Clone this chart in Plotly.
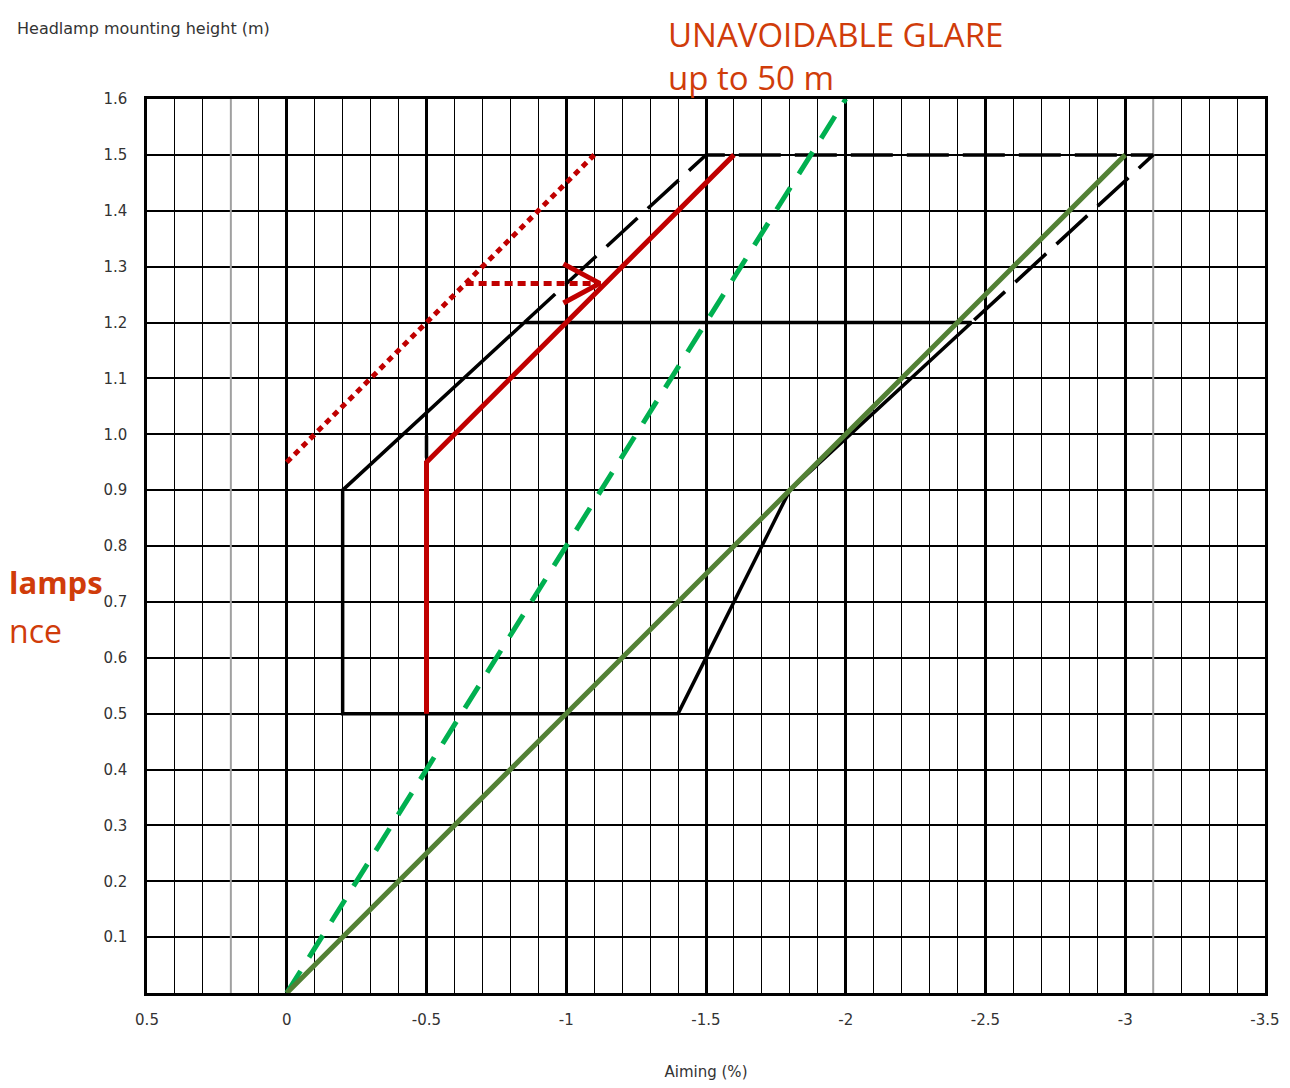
import plotly.graph_objects as go

# ---------------- data ----------------
x_ticks = [0.5, 0, -0.5, -1, -1.5, -2, -2.5, -3, -3.5]
x_tick_text = ["0.5", "0", "-0.5", "-1", "-1.5", "-2", "-2.5", "-3", "-3.5"]
y_ticks = [0.1, 0.2, 0.3, 0.4, 0.5, 0.6, 0.7, 0.8, 0.9, 1.0, 1.1, 1.2, 1.3, 1.4, 1.5, 1.6]
y_tick_text = ["0.1", "0.2", "0.3", "0.4", "0.5", "0.6", "0.7", "0.8", "0.9", "1.0",
               "1.1", "1.2", "1.3", "1.4", "1.5", "1.6"]

# black solid zone outline
zone_x = [-0.85, -0.2, -0.2, -1.4, -1.8, -2.45, -0.85]
zone_y = [1.2, 0.9, 0.5, 0.5, 0.9, 1.2, 1.2]
# black dashed extension
ext_x = [-0.85, -1.5, -3.1, -2.45]
ext_y = [1.2, 1.5, 1.5, 1.2]
# black dashed vertical
vert_x = [-0.5, -0.5]
vert_y = [0.5, 1.0]
# red solid
red_x = [-0.5, -0.5, -1.6]
red_y = [0.5, 0.95, 1.5]
# red dotted
reddot_x = [0.0, -1.1]
reddot_y = [0.95, 1.5]
# red dotted arrow
arrow_x = [-0.64, -1.11]
arrow_y = [1.27, 1.27]
arrowhead_x = [-0.99, -1.12, -0.99]
arrowhead_y = [1.305, 1.27, 1.235]
# green dashed
gdash_x = [0.0, -2.0]
gdash_y = [0.0, 1.6]
# olive solid
olive_x = [0.0, -3.0]
olive_y = [0.0, 1.5]
# grey grid lines
grey_x = [0.2, -3.1]

fig = go.Figure()

fig.add_trace(go.Scatter(x=zone_x, y=zone_y, mode="lines",
                         line=dict(color="black", width=3.5), hoverinfo="skip"))
fig.add_trace(go.Scatter(x=ext_x, y=ext_y, mode="lines",
                         line=dict(color="black", width=3.5, dash="42px,14px"), hoverinfo="skip"))
fig.add_trace(go.Scatter(x=vert_x, y=vert_y, mode="lines",
                         line=dict(color="black", width=3.5, dash="22px,10px"), hoverinfo="skip"))
fig.add_trace(go.Scatter(x=reddot_x, y=reddot_y, mode="lines",
                         line=dict(color="#C00000", width=5, dash="6px,5px"), hoverinfo="skip"))
fig.add_trace(go.Scatter(x=arrow_x, y=arrow_y, mode="lines",
                         line=dict(color="#C00000", width=5, dash="8px,5px"), hoverinfo="skip"))
fig.add_trace(go.Scatter(x=arrowhead_x, y=arrowhead_y, mode="lines",
                         line=dict(color="#C00000", width=5), hoverinfo="skip"))
fig.add_trace(go.Scatter(x=gdash_x, y=gdash_y, mode="lines",
                         line=dict(color="#00B050", width=5, dash="26px,16px"), hoverinfo="skip"))
fig.add_trace(go.Scatter(x=olive_x, y=olive_y, mode="lines",
                         line=dict(color="#538135", width=5), hoverinfo="skip"))
fig.add_trace(go.Scatter(x=red_x, y=red_y, mode="lines",
                         line=dict(color="#C00000", width=5), hoverinfo="skip"))

for gx in grey_x:
    fig.add_shape(type="line", x0=gx, x1=gx, y0=0, y1=1.6, xref="x", yref="y",
                  line=dict(color="#a0a0a0", width=2), layer="between")

axis_font = dict(family="DejaVu Sans", size=15, color="#333333")

fig.update_xaxes(
    range=[0.5, -3.5], tickvals=x_ticks, ticktext=x_tick_text,
    showgrid=True, gridcolor="black", gridwidth=3,
    minor=dict(dtick=0.1, tick0=0, showgrid=True, gridcolor="black", gridwidth=1.3),
    showline=True, linecolor="black", linewidth=2.5, mirror=True,
    zeroline=False, ticks="", tickfont=axis_font, ticklabelstandoff=11,
    title=dict(text="Aiming (%)", font=axis_font, standoff=39),
)
fig.update_yaxes(
    range=[0, 1.6], tickvals=y_ticks, ticktext=y_tick_text,
    showgrid=True, gridcolor="black", gridwidth=1.5,
    showline=True, linecolor="black", linewidth=2.5, mirror=True,
    zeroline=False, ticks="", tickfont=axis_font, ticklabelstandoff=14,
)

orange = "#D03C0A"
FW, FH = 1284, 1082
L, T, W, H = 139, 91, 1130, 904
fig.update_layout(
    width=FW, height=FH,
    margin=dict(l=L, r=FW - L - W, t=T, b=FH - T - H),
    plot_bgcolor="white", paper_bgcolor="white",
    showlegend=False,
    annotations=[
        dict(text="Headlamp mounting height (m)", xref="paper", yref="paper",
             x=(6 - L) / W, y=(T + H - 20) / H, xanchor="left", yanchor="middle",
             showarrow=False, font=dict(family="DejaVu Sans", size=16, color="#333333")),
        dict(text="UNAVOIDABLE GLARE<br>up to 50 m", xref="paper", yref="paper",
             x=(664 - L) / W, y=(T + H - 1) / H, xanchor="left", yanchor="top",
             align="left", showarrow=False,
             font=dict(family="Open Sans", size=33, color=orange)),
        dict(text="<b>lamps</b>", xref="paper", yref="paper",
             x=(-3 - L) / W, y=(T + H - 579) / H, xanchor="left", yanchor="middle",
             showarrow=False, font=dict(family="Open Sans", size=31, color=orange)),
        dict(text="nce", xref="paper", yref="paper",
             x=(-3 - L) / W, y=(T + H - 628) / H, xanchor="left", yanchor="middle",
             showarrow=False, font=dict(family="Open Sans", size=32, color=orange)),
    ],
)

fig.write_html("out.html")
